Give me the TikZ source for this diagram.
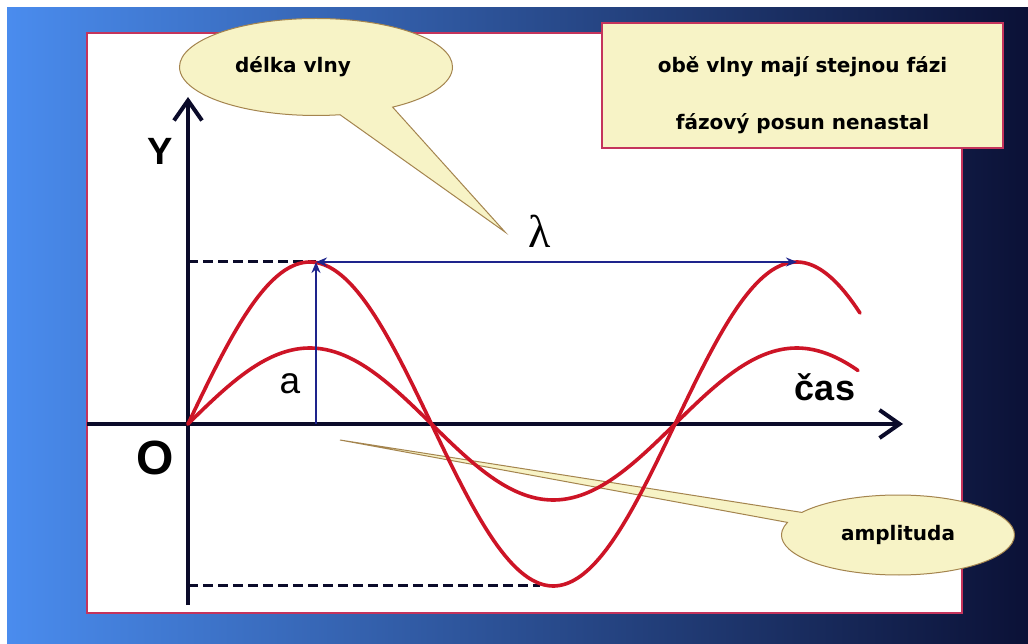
\documentclass[tikz,border=0pt]{standalone}
\usepackage{fontspec}
\setmainfont{DejaVu Sans}
\newfontfamily\axisfont{Liberation Sans}
\newfontfamily\greekfont{Liberation Serif}
\usetikzlibrary{arrows.meta,shapes.callouts}
\definecolor{SkyBlue}{HTML}{4A8CEE}
\definecolor{DeepBlue}{HTML}{2448C4}
\definecolor{NightNavy}{HTML}{0B1136}
\definecolor{FrameRose}{HTML}{C4345C}
\definecolor{WaveRed}{HTML}{CD1426}
\definecolor{RulerBlue}{HTML}{1E248C}
\definecolor{AxisInk}{HTML}{0B0B2A}
\definecolor{NoteCream}{HTML}{F7F3C6}
\definecolor{NoteEdge}{HTML}{A4844E}

\begin{document}
\begin{tikzpicture}[x=1pt, y=-1pt,
  axisline/.style={-{Straight Barb[length=20pt, width=28pt]}, line width=4pt, draw=AxisInk},
  waveline/.style={line width=3.6pt, draw=WaveRed, line cap=round},
  rulerline/.style={line width=2.5pt, draw=RulerBlue},
  guideline/.style={dash pattern=on 10pt off 5pt, line width=3pt, draw=AxisInk},
  notebubble/.style={ellipse callout, draw=NoteEdge, fill=NoteCream, line width=1pt,
    inner sep=0pt, font=\bfseries\fontsize{20}{24}\selectfont},
  notebox/.style={draw=FrameRose, fill=NoteCream, line width=2pt, align=center,
    minimum width=401pt, minimum height=125pt, font=\bfseries\fontsize{20}{57}\selectfont},
  axislabel/.style={anchor=base, font=\axisfont\fontsize{37}{40}\selectfont}
]
\useasboundingbox (0,0) rectangle (1028,644);
\fill[white] (0,0) rectangle (1028,644);
\shade[left color=SkyBlue, middle color=DeepBlue, right color=NightNavy] (7,8) rectangle (1028,644);
\draw[draw=FrameRose, fill=white, line width=2pt] (87,33) rectangle (962,613);

\node[notebubble, minimum width=273pt, minimum height=97pt,
  callout absolute pointer={(505,232)}, callout pointer arc=24] (wavenote) at (316,67) {délka vlny\hspace*{46pt}};
\node[notebubble, minimum width=233pt, minimum height=80pt,
  callout absolute pointer={(340,440)}, callout pointer arc=16] (amplnote) at (898,535) {amplituda};

\coordinate (origin) at (188,424);
\coordinate (ybase) at (188,605);
\coordinate (ytip) at (188,97);
\coordinate (xbase) at (87,424);
\coordinate (xtip) at (903,424);
\coordinate (crest) at (316,262);
\coordinate (crestfoot) at (316,424);
\coordinate (nextcrest) at (797,262);
\coordinate (crestlevel) at (188,262);
\coordinate (troughlevel) at (188,585);
\coordinate (trough) at (540,585);

\draw[axisline] (ybase) -- (ytip);
\draw[axisline] (xbase) -- (xtip);
\draw[guideline] (crestlevel) -- (crest);
\draw[guideline] (troughlevel) -- (trough);

\draw[waveline] plot[domain=188:860, samples=120, smooth] (\x, {424-162*sin((\x-188)/487*360)});
\draw[waveline] plot[domain=188:858, samples=120, smooth] (\x, {424-76*sin((\x-188)/487*360)});

\draw[rulerline, -{Stealth[length=11pt, width=9pt]}] (crestfoot) -- (crest);
\draw[rulerline, {Stealth[length=11pt, width=9pt]}-{Stealth[length=11pt, width=9pt]}] (crest) -- (nextcrest);

\node[axislabel, font=\axisfont\bfseries\fontsize{38}{40}\selectfont] (ylabel) at (160,165) {Y};
\node[axislabel, font=\axisfont\bfseries\fontsize{48}{50}\selectfont] (olabel) at (155,474) {O};
\node[axislabel] (alabel) at (290,393) {a};
\node[axislabel, font=\axisfont\bfseries\fontsize{36}{40}\selectfont] (timelabel) at (825,400) {čas};
\node[anchor=base, font=\greekfont\fontsize{46}{48}\selectfont] (lambdalabel) at (540,248) {λ};

\node[notebox] (phasebox) at (802.5,85.5) {\rule{0pt}{35pt}obě vlny mají stejnou fázi\\fázový posun nenastal};
\end{tikzpicture}
\end{document}
